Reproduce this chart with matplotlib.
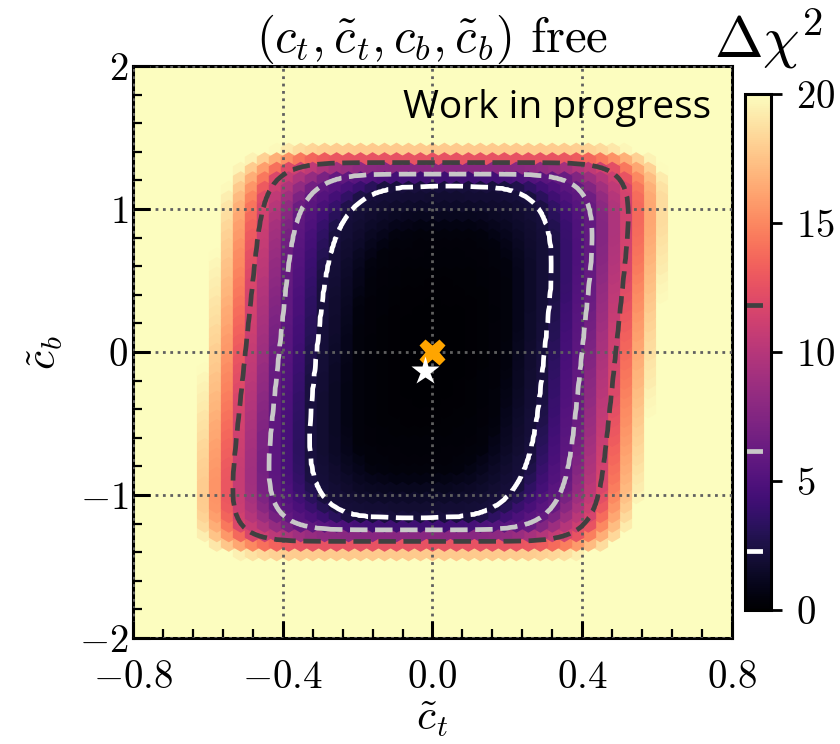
import numpy as np
import matplotlib
matplotlib.use("Agg")
import matplotlib.pyplot as plt
from matplotlib.ticker import MultipleLocator

plt.rcParams["font.family"] = "serif"
plt.rcParams["font.serif"] = ["cmr10"]
plt.rcParams["mathtext.fontset"] = "cm"
plt.rcParams["axes.formatter.use_mathtext"] = True

# Delta chi^2 contour levels and the size of each contour in the (ct~, cb~) plane
chi2_levels = [0.5, 2.3, 6.18, 11.83, 20.0]
half_width_ct = [0.20, 0.305, 0.405, 0.495, 0.60]
half_height_cb = [0.85, 1.16, 1.245, 1.325, 1.43]
corner_power = [3.0, 4.0, 6.0, 8.0, 8.0]
centre_ct, centre_cb = -0.005, 0.0
shear_ct = 0.04  # drift of the contour centre in ct~ per unit of cb~

# 1, 2, 3 sigma lines (2 dof)
sigma_levels = [2.3, 6.18, 11.83]
sigma_colors = ["white", "#c8c8c8", "#404040"]

best_fit = (-0.02, -0.13)
sm_point = (0.0, 0.0)

xticks = [-0.8, -0.4, 0.0, 0.4, 0.8]
xticklabels = [r"$-0.8$", r"$-0.4$", r"$0.0$", r"$0.4$", r"$0.8$"]
yticks = [-2, -1, 0, 1, 2]
cbar_ticks = [0, 5, 10, 15, 20]


def chi2_map(ct, cb):
    u = ct - centre_ct - shear_ct * cb
    v = cb - centre_cb
    r = np.array([(np.abs(u / a) ** p + np.abs(v / b) ** p) ** (1.0 / p)
                  for a, b, p in zip(half_width_ct, half_height_cb, corner_power)])
    lev = np.array(chi2_levels)
    n = len(lev)
    count = (r >= 1).sum(axis=0)
    out = np.empty_like(u)
    inside = count == 0
    out[inside] = lev[0] * r[0][inside] ** 2
    outside = count == n
    out[outside] = lev[-1] * r[-1][outside] ** 2
    for k in range(n - 1):
        m = count == k + 1
        rk, rk1 = r[k][m], r[k + 1][m]
        den = np.where(np.abs(rk - rk1) < 1e-9, 1e-9, rk - rk1)
        t = np.clip((rk - 1) / den, 0, 1)
        out[m] = lev[k] + (lev[k + 1] - lev[k]) * t
    return out


# scan points
sx = np.arange(-0.8, 0.8001, 0.032)
sy = np.arange(-2.0, 2.0001, 2.0 / 30)
SX, SY = np.meshgrid(sx, sy)
SX, SY = SX.ravel(), SY.ravel()
SC = chi2_map(SX, SY)
order = np.argsort(-SC)

# fine grid for contour lines
fx = np.linspace(-0.8, 0.8, 401)
fy = np.linspace(-2.0, 2.0, 501)
FX, FY = np.meshgrid(fx, fy)
FC = chi2_map(FX, FY)

fig = plt.figure(figsize=(8.4, 7.44), dpi=100)
ax = fig.add_axes([0.1583, 0.1425, 0.7131, 0.7688])
cax = fig.add_axes([0.8869, 0.1801, 0.031, 0.6936])

sc = ax.scatter(SX[order], SY[order], c=SC[order], cmap="magma", vmin=0, vmax=20,
                marker="h", s=175, linewidths=0, zorder=1)
cs = ax.contour(FX, FY, FC, levels=sigma_levels, colors=sigma_colors,
                linewidths=3.4, linestyles="dashed", zorder=3)

ax.plot(*sm_point, marker="X", color="#ffa500", ms=19, mec="none", zorder=5)
ax.plot(*best_fit, marker="*", color="white", ms=21, mec="none", zorder=6)

ax.set_xlim(-0.8, 0.8)
ax.set_ylim(-2, 2)
ax.set_xticks(xticks)
ax.set_xticklabels(xticklabels)
ax.set_yticks(yticks)
ax.xaxis.set_minor_locator(MultipleLocator(0.08))
ax.yaxis.set_minor_locator(MultipleLocator(0.2))
ax.tick_params(which="both", direction="in", labelsize=28, top=False, right=False)
ax.tick_params(which="major", length=12, width=2.2)
ax.tick_params(which="minor", length=6.5, width=1.6)
ax.tick_params(axis="x", pad=16)
for s in ax.spines.values():
    s.set_linewidth(2.2)
ax.grid(True, which="major", color="#606060", linestyle=":", linewidth=2, zorder=4)
ax.set_axisbelow(False)

ax.set_xlabel(r"$\tilde{c}_t$", fontsize=31, labelpad=2)
ax.set_ylabel(r"$\tilde{c}_b$", fontsize=31, labelpad=10)
ax.set_title(r"$(c_t,\tilde{c}_t,c_b,\tilde{c}_b)$ free", fontsize=35, pad=1)
ax.text(0.45, 0.927, "Work in progress", transform=ax.transAxes, fontsize=28,
        family="Open Sans", ha="left", va="center", zorder=7)

cbar = fig.colorbar(sc, cax=cax, ticks=cbar_ticks)
for lev, col in zip(sigma_levels, sigma_colors):
    cax.axhline(lev, color=col, linewidth=3.4, linestyle="dashed")
cbar.outline.set_linewidth(2.2)
cax.tick_params(direction="out", length=8, width=2, labelsize=28, pad=10)
fig.text(0.915, 0.948, r"$\Delta\chi^2$", fontsize=42, ha="center", va="center")

fig.savefig("out.png", dpi=100)
